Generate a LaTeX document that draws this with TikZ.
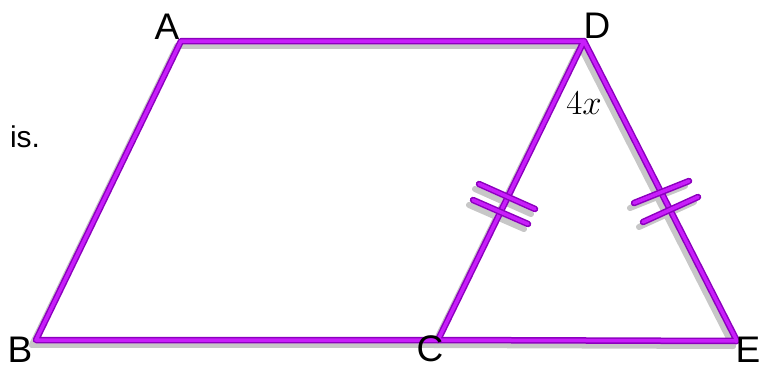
\documentclass[tikz,border=0pt]{standalone}
\usepackage{fontspec}
\setsansfont{Liberation Sans}
\begin{document}
\definecolor{pdark}{RGB}{140,0,190}
\definecolor{plight}{RGB}{200,30,250}
\tikzset{
  seg/.style={draw=pdark,line width=6.5pt,line cap=round,line join=round},
  seghi/.style={draw=plight,line width=3.5pt,line cap=round,line join=round},
  shad/.style={draw=black!22,line width=6pt,line cap=round,line join=round},
  lab/.style={font=\sffamily\fontsize{37}{37}\selectfont,inner sep=0pt},
}
\begin{tikzpicture}[x=1pt,y=-1pt]
\useasboundingbox (0,0) rectangle (761,370);
\coordinate (A) at (181,41);
\coordinate (D) at (584,41);
\coordinate (B) at (36,340);
\coordinate (C) at (438,340);
\coordinate (E) at (737,341);
% tick endpoints
\coordinate (t1a) at (479,184); \coordinate (t1b) at (535,209);
\coordinate (t2a) at (473,200); \coordinate (t2b) at (528,224);
\coordinate (t3a) at (634,203); \coordinate (t3b) at (689,181);
\coordinate (t4a) at (643,222); \coordinate (t4b) at (698,197);
% shadows (offset copies)
\foreach \p/\q in {A/D,D/C,C/B,B/A,D/E,E/C,t1a/t1b,t2a/t2b,t3a/t3b,t4a/t4b}{
  \draw[shad] ([shift={(-4,5)}]\p) -- ([shift={(-4,5)}]\q);
}
% lines
\draw[seg] (A) -- (D) -- (C) -- (B) -- cycle;
\draw[seg] (D) -- (E) -- (C);
\draw[seghi] (A) -- (D) -- (C) -- (B) -- cycle;
\draw[seghi] (D) -- (E) -- (C);
\foreach \p/\q in {t1a/t1b,t2a/t2b,t3a/t3b,t4a/t4b}{
  \draw[seg] (\p) -- (\q);
  \draw[seghi] (\p) -- (\q);
}
% labels
\node[lab] (lA) at (167,27) {A};
\node[lab] (lD) at (597,26) {D};
\node[lab] (lB) at (20,350) {B};
\node[lab] (lC) at (430,349) {C};
\node[lab] (lE) at (748,350) {E};
\node[font=\sffamily\fontsize{30}{30}\selectfont,inner sep=0pt] (is) at (25,137) {is.};
\node[font=\Huge,inner sep=0pt,scale=1.4] (fx) at (584,103) {$4x$};
\end{tikzpicture}
\end{document}
